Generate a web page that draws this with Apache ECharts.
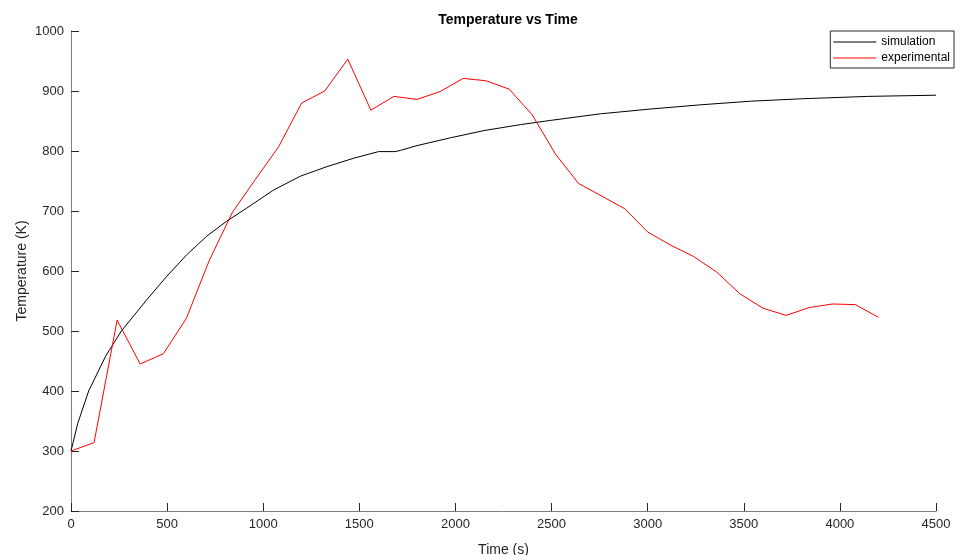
<!DOCTYPE html>
<html>
<head>
<meta charset="utf-8">
<script src="https://cdn.jsdelivr.net/npm/echarts@6/dist/echarts.min.js"></script>
<style>
  html, body { margin: 0; padding: 0; background: #fff; }
  #chart { width: 960px; height: 555px; }
</style>
</head>
<body>
<div id="chart"></div>
<script>
// Simulated temperature history (s, K)
const simTime = [0, 36, 92, 180, 262, 394, 498, 602, 706, 810, 915, 1054, 1193, 1332, 1471,
  1600, 1685, 1714, 1800, 1974, 2148, 2339, 2495, 2755, 3016, 3276, 3536, 3797, 4144, 4500];
const simTemp = [300, 347, 400, 458, 500, 552, 591, 627, 658, 683, 705, 735, 758, 774, 788,
  799, 799, 801, 809, 822, 834, 844, 851, 862, 870, 877, 883, 887, 891, 893];

// Thermocouple readings, sampled every 120 s (s, K)
const expTime = [0, 120, 240, 360, 480, 600, 720, 840, 960, 1080, 1200, 1320, 1440, 1560, 1680,
  1800, 1920, 2040, 2160, 2280, 2400, 2520, 2640, 2760, 2880, 3000, 3120, 3240, 3360, 3480,
  3600, 3720, 3840, 3960, 4080, 4200];
const expTemp = [300, 314, 518, 445, 462, 521, 618, 698, 753, 807, 880, 900, 953, 868, 891,
  886, 899, 921, 917, 903, 860, 795, 746, 725, 704, 665, 643, 624, 598, 562,
  538, 526, 539, 545, 544, 523];

const xTicks = { min: 0, max: 4500, step: 500 };
const yTicks = { min: 200, max: 1000, step: 100 };

const pairs = (xs, ys) => xs.map((x, i) => [x, ys[i]]);

const FONT = '"Liberation Sans", Arial, Helvetica, sans-serif';
const INK = '#262626';

const chart = echarts.init(document.getElementById('chart'), null, { renderer: 'canvas' });

const axisCommon = {
  axisLine: { show: true, lineStyle: { color: '#808080', width: 1 } },
  axisTick: { show: true, inside: true, length: 8, lineStyle: { color: INK, width: 1 } },
  axisLabel: { color: INK, fontSize: 13, fontFamily: FONT, margin: 7, formatter: v => String(v) },
  splitLine: { show: false },
  nameMoveOverlap: false,
  nameTextStyle: { color: INK, fontSize: 14, fontFamily: FONT }
};

chart.setOption({
  animation: false,
  backgroundColor: '#fff',
  title: {
    text: 'Temperature vs Time',
    left: 503,
    top: 8,
    textAlign: 'center',
    textStyle: { fontSize: 14, fontWeight: 'bold', color: '#000', fontFamily: FONT }
  },
  grid: { left: 71, right: 24, top: 31, bottom: 44, containLabel: false, outerBoundsMode: 'none' },
  legend: {
    orient: 'vertical',
    right: 6,
    top: 31,
    padding: [4, 4, 3, 3],
    itemGap: 2,
    itemWidth: 43,
    itemHeight: 1,
    icon: 'rect',
    borderColor: INK,
    borderWidth: 1,
    borderRadius: 0,
    backgroundColor: '#fff',
    textStyle: { fontSize: 12, lineHeight: 14, color: '#000', fontFamily: FONT },
    data: ['simulation', 'experimental']
  },
  xAxis: Object.assign({}, axisCommon, {
    type: 'value',
    min: xTicks.min,
    max: xTicks.max,
    interval: xTicks.step,
    name: 'Time (s)',
    nameLocation: 'middle',
    nameGap: 32
  }),
  yAxis: Object.assign({}, axisCommon, {
    type: 'value',
    min: yTicks.min,
    max: yTicks.max,
    interval: yTicks.step,
    name: 'Temperature (K)',
    nameLocation: 'middle',
    nameGap: 42
  }),
  series: [
    {
      name: 'simulation',
      type: 'line',
      data: pairs(simTime, simTemp),
      symbol: 'none',
      lineStyle: { color: '#000', width: 1 },
      itemStyle: { color: '#000' },
      z: 2
    },
    {
      name: 'experimental',
      type: 'line',
      data: pairs(expTime, expTemp),
      symbol: 'none',
      lineStyle: { color: '#ff0000', width: 1 },
      itemStyle: { color: '#ff0000' },
      z: 3
    }
  ]
});
</script>
</body>
</html>
